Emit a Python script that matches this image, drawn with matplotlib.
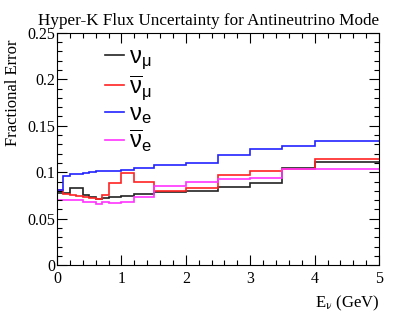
import matplotlib
matplotlib.use("Agg")
import matplotlib.pyplot as plt
from matplotlib.ticker import MultipleLocator

# bin edges in GeV
edges = [0, 0.1, 0.2, 0.3, 0.4, 0.5, 0.6, 0.7, 0.8, 1.0, 1.2, 1.5, 2.0, 2.5, 3.0, 3.5, 4.0, 5.0]

# fractional flux error per bin
numu = [0.078, 0.078, 0.083, 0.083, 0.075, 0.073, 0.071, 0.072, 0.073, 0.074, 0.077, 0.079,
        0.080, 0.084, 0.088, 0.105, 0.111]
numubar = [0.081, 0.077, 0.076, 0.074, 0.073, 0.072, 0.071, 0.075, 0.088, 0.099, 0.090, 0.080,
           0.083, 0.097, 0.101, 0.103, 0.114]
nue = [0.081, 0.096, 0.098, 0.098, 0.099, 0.100, 0.101, 0.101, 0.101, 0.102, 0.105, 0.108,
       0.110, 0.119, 0.125, 0.128, 0.134]
nuebar = [0.070, 0.070, 0.070, 0.070, 0.068, 0.068, 0.066, 0.068, 0.067, 0.068, 0.073, 0.085,
          0.090, 0.093, 0.094, 0.103, 0.103]

etiquetas = [r'$\mathrm{\nu}_{\mathrm{\mu}}$', r'$\overline{\mathrm{\nu}}_{\mathrm{\mu}}$',
             r'$\mathrm{\nu}_{\mathrm{e}}$', r'$\overline{\mathrm{\nu}}_{\mathrm{e}}$']
colores = ['#222222', '#ff2222', '#2222ff', '#ff33ff']

plt.rcParams['font.family'] = ['Liberation Serif']
plt.rcParams['mathtext.fontset'] = 'custom'
plt.rcParams['mathtext.rm'] = 'Liberation Sans'
plt.rcParams['mathtext.it'] = 'Liberation Sans:italic'

fig = plt.figure(figsize=(3.99, 3.16), dpi=100)
ax = fig.add_axes([0.143, 0.161, 0.807, 0.735])

for serie, color, lab in zip([numu, numubar, nue, nuebar], colores, etiquetas):
    ax.stairs(serie, edges, baseline=None, color=color, lw=1.2, label=lab)

ax.set_xlim(0, 5)
ax.set_ylim(0, 0.25)
ax.xaxis.set_major_locator(MultipleLocator(1))
ax.xaxis.set_minor_locator(MultipleLocator(0.2))
ax.yaxis.set_major_locator(MultipleLocator(0.05))
ax.yaxis.set_minor_locator(MultipleLocator(0.01))
ax.set_yticks([0, 0.05, 0.1, 0.15, 0.2, 0.25], ['0', '0.05', '0.1', '0.15', '0.2', '0.25'])
ax.tick_params(which='both', direction='in', top=True, right=True, labelsize=11.5, width=0.8)
ax.tick_params(which='major', length=7)
ax.tick_params(which='minor', length=3.5)
ax.tick_params(axis='x', pad=4)
ax.tick_params(axis='y', pad=1)

ax.set_title('Hyper-K Flux Uncertainty for Antineutrino Mode', fontsize=12.3, pad=6, x=0.47)
ax.set_ylabel('Fractional Error', fontsize=12, loc='top')
ax.yaxis.set_label_coords(-0.112, 0.97)
xl = ax.set_xlabel(r'E$_{\mathrm{\nu}}$ (GeV)', fontsize=12, loc='right', labelpad=5)
xl.set_math_fontfamily('stix')

ax.legend(frameon=False, loc='upper left', bbox_to_anchor=(0.149, 0.94), fontsize=17,
          handlelength=0.8, handletextpad=0.2, labelspacing=0.05, borderaxespad=0,
          borderpad=0)

fig.savefig('out.png', dpi=100)
